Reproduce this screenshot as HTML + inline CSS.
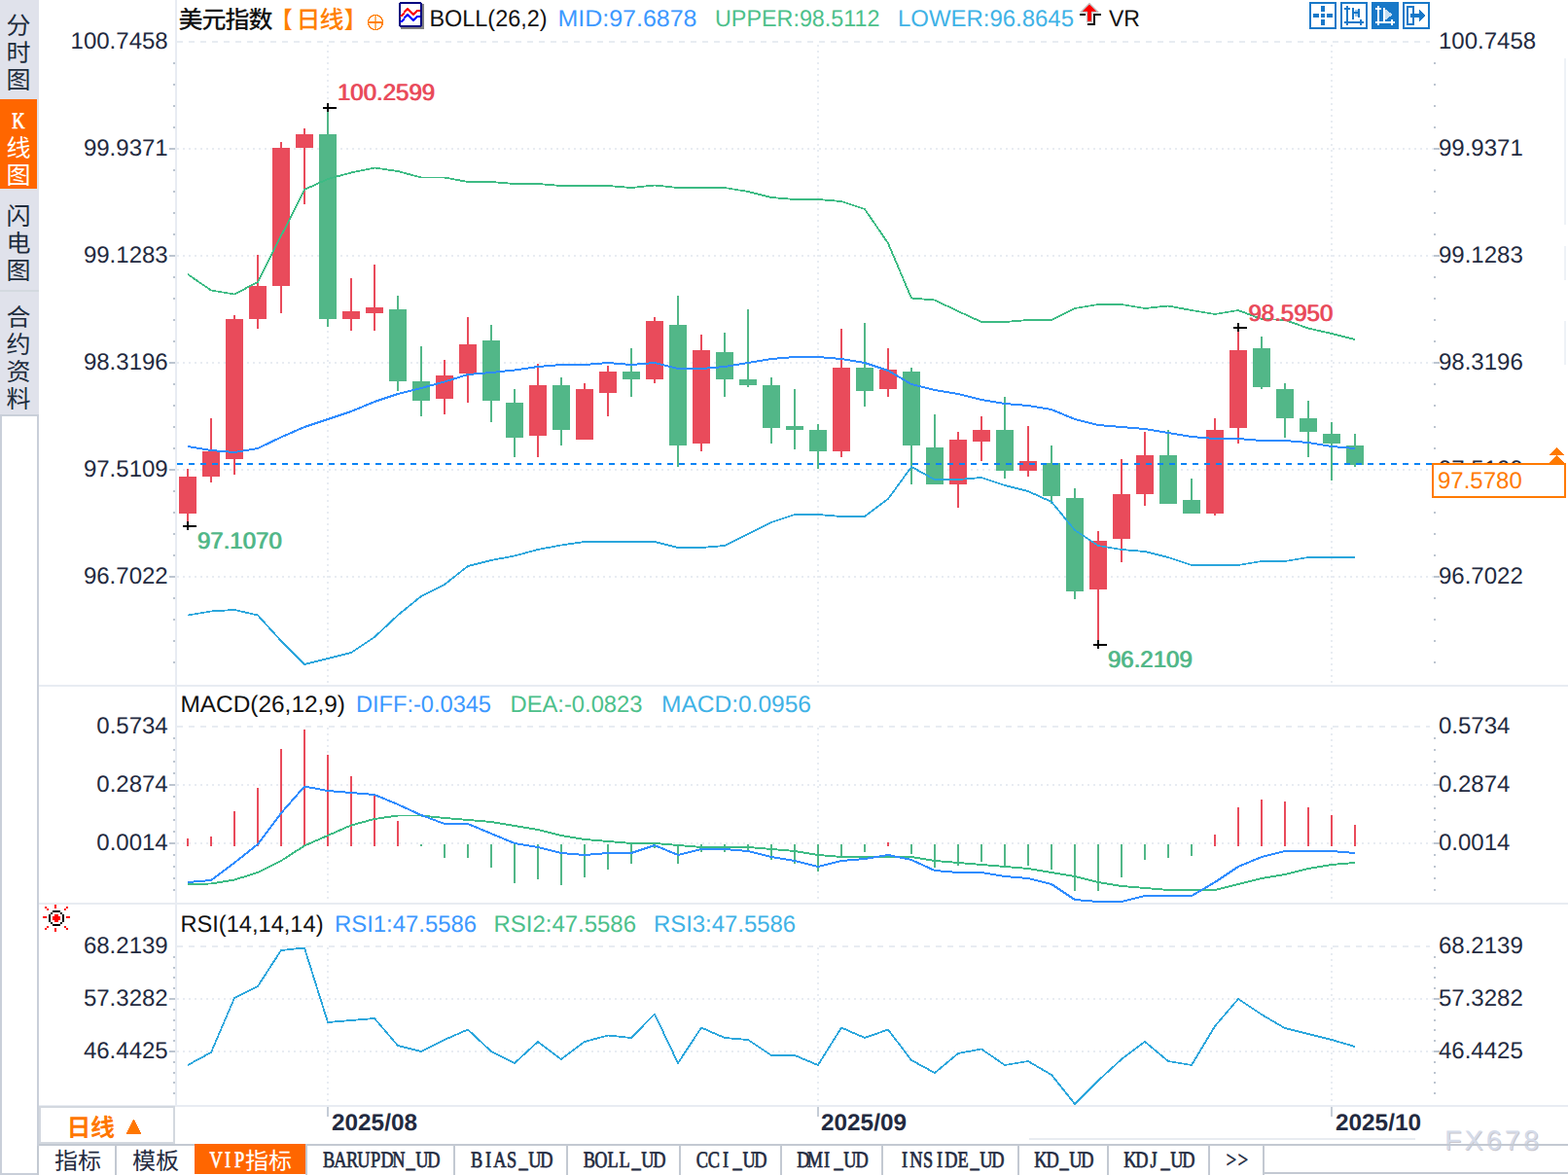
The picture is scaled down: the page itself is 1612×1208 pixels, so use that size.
<!DOCTYPE html>
<html><head><meta charset="utf-8"><title>chart</title>
<style>html,body{margin:0;padding:0;background:#fff;overflow:hidden}svg{display:block;font-family:"Liberation Sans",sans-serif}</style>
</head><body><svg width="1612" height="1208" viewBox="0 0 1612 1208" font-family="Liberation Sans, sans-serif" shape-rendering="crispEdges" text-rendering="geometricPrecision"><rect x="0" y="0" width="1612" height="1208" fill="#ffffff"/>
<rect x="0" y="0" width="40" height="426" fill="#e0e2eb"/>
<rect x="0" y="102" width="38" height="92" fill="#ff6600"/>
<rect x="0" y="298" width="40" height="2" fill="#d3d9df"/>
<rect x="0" y="426" width="40" height="782" fill="#c9cfd9"/>
<rect x="2" y="428" width="36" height="778" fill="#ffffff"/>
<text x="6.5" y="34.5" fill="#202c3c" font-size="25" style="font-family:'Liberation Sans','Noto Sans CJK SC',sans-serif">分</text>
<text x="6.5" y="62.5" fill="#202c3c" font-size="25" style="font-family:'Liberation Sans','Noto Sans CJK SC',sans-serif">时</text>
<text x="6.5" y="90.5" fill="#202c3c" font-size="25" style="font-family:'Liberation Sans','Noto Sans CJK SC',sans-serif">图</text>
<text transform="scale(0.78,1)" x="24.36" y="132" fill="#ffffff" font-size="23.5" text-anchor="middle" stroke="#ffffff" stroke-width="0.7" style="font-family:'Liberation Serif',serif">K</text>
<text x="6.5" y="160.5" fill="#ffffff" font-size="25" style="font-family:'Liberation Sans','Noto Sans CJK SC',sans-serif">线</text>
<text x="6.5" y="188.5" fill="#ffffff" font-size="25" style="font-family:'Liberation Sans','Noto Sans CJK SC',sans-serif">图</text>
<text x="6.5" y="230.5" fill="#202c3c" font-size="25" style="font-family:'Liberation Sans','Noto Sans CJK SC',sans-serif">闪</text>
<text x="6.5" y="258.5" fill="#202c3c" font-size="25" style="font-family:'Liberation Sans','Noto Sans CJK SC',sans-serif">电</text>
<text x="6.5" y="286.5" fill="#202c3c" font-size="25" style="font-family:'Liberation Sans','Noto Sans CJK SC',sans-serif">图</text>
<text x="6.5" y="335" fill="#202c3c" font-size="25" style="font-family:'Liberation Sans','Noto Sans CJK SC',sans-serif">合</text>
<text x="6.5" y="363" fill="#202c3c" font-size="25" style="font-family:'Liberation Sans','Noto Sans CJK SC',sans-serif">约</text>
<text x="6.5" y="391" fill="#202c3c" font-size="25" style="font-family:'Liberation Sans','Noto Sans CJK SC',sans-serif">资</text>
<text x="6.5" y="419" fill="#202c3c" font-size="25" style="font-family:'Liberation Sans','Noto Sans CJK SC',sans-serif">料</text>
<rect x="180" y="0" width="2" height="1137" fill="#e8ecf2"/>
<rect x="40" y="704" width="1572" height="2" fill="#e8ecf2"/>
<rect x="40" y="928" width="1572" height="2" fill="#e8ecf2"/>
<rect x="40" y="1136" width="1572" height="2" fill="#e8ecf2"/>
<rect x="1608" y="60" width="2" height="171" fill="#eef2f6"/>
<rect x="1608" y="253" width="2" height="35" fill="#eef2f6"/>
<rect x="1608" y="330" width="2" height="45" fill="#eef2f6"/>
<line x1="182" y1="43" x2="1470" y2="43" stroke="#e8ecf2" stroke-width="2" stroke-dasharray="6 6"/>
<line x1="182" y1="153" x2="1474" y2="153" stroke="#e8ecf2" stroke-width="2" stroke-dasharray="2 4"/>
<line x1="182" y1="263" x2="1474" y2="263" stroke="#e8ecf2" stroke-width="2" stroke-dasharray="2 4"/>
<line x1="182" y1="373" x2="1474" y2="373" stroke="#e8ecf2" stroke-width="2" stroke-dasharray="2 4"/>
<line x1="182" y1="483" x2="1474" y2="483" stroke="#e8ecf2" stroke-width="2" stroke-dasharray="2 4"/>
<line x1="182" y1="593" x2="1474" y2="593" stroke="#e8ecf2" stroke-width="2" stroke-dasharray="2 4"/>
<line x1="182" y1="747" x2="1470" y2="747" stroke="#e8ecf2" stroke-width="2" stroke-dasharray="6 6"/>
<line x1="182" y1="807" x2="1474" y2="807" stroke="#e8ecf2" stroke-width="2" stroke-dasharray="2 4"/>
<line x1="182" y1="867" x2="1474" y2="867" stroke="#e8ecf2" stroke-width="2" stroke-dasharray="2 4"/>
<line x1="182" y1="973" x2="1470" y2="973" stroke="#e8ecf2" stroke-width="2" stroke-dasharray="6 6"/>
<line x1="182" y1="1027" x2="1474" y2="1027" stroke="#e8ecf2" stroke-width="2" stroke-dasharray="2 4"/>
<line x1="182" y1="1081" x2="1474" y2="1081" stroke="#e8ecf2" stroke-width="2" stroke-dasharray="2 4"/>
<line x1="337" y1="46" x2="337" y2="704" stroke="#e8ecf2" stroke-width="2" stroke-dasharray="2 4"/>
<line x1="337" y1="748" x2="337" y2="928" stroke="#e8ecf2" stroke-width="2" stroke-dasharray="2 4"/>
<line x1="337" y1="974" x2="337" y2="1136" stroke="#e8ecf2" stroke-width="2" stroke-dasharray="2 4"/>
<rect x="336" y="1138" width="2" height="10" fill="#c5ccd6"/>
<line x1="841" y1="46" x2="841" y2="704" stroke="#e8ecf2" stroke-width="2" stroke-dasharray="2 4"/>
<line x1="841" y1="748" x2="841" y2="928" stroke="#e8ecf2" stroke-width="2" stroke-dasharray="2 4"/>
<line x1="841" y1="974" x2="841" y2="1136" stroke="#e8ecf2" stroke-width="2" stroke-dasharray="2 4"/>
<rect x="840" y="1138" width="2" height="10" fill="#c5ccd6"/>
<line x1="1369" y1="46" x2="1369" y2="704" stroke="#e8ecf2" stroke-width="2" stroke-dasharray="2 4"/>
<line x1="1369" y1="748" x2="1369" y2="928" stroke="#e8ecf2" stroke-width="2" stroke-dasharray="2 4"/>
<line x1="1369" y1="974" x2="1369" y2="1136" stroke="#e8ecf2" stroke-width="2" stroke-dasharray="2 4"/>
<rect x="1368" y="1138" width="2" height="10" fill="#c5ccd6"/>
<rect x="178" y="64" width="2" height="2" fill="#bcc5d0"/>
<rect x="1474" y="64" width="2" height="2" fill="#bcc5d0"/>
<rect x="178" y="86" width="2" height="2" fill="#bcc5d0"/>
<rect x="1474" y="86" width="2" height="2" fill="#bcc5d0"/>
<rect x="178" y="108" width="2" height="2" fill="#bcc5d0"/>
<rect x="1474" y="108" width="2" height="2" fill="#bcc5d0"/>
<rect x="178" y="130" width="2" height="2" fill="#bcc5d0"/>
<rect x="1474" y="130" width="2" height="2" fill="#bcc5d0"/>
<rect x="174" y="152" width="6" height="2" fill="#bcc5d0"/>
<rect x="1474" y="152" width="6" height="2" fill="#bcc5d0"/>
<rect x="178" y="174" width="2" height="2" fill="#bcc5d0"/>
<rect x="1474" y="174" width="2" height="2" fill="#bcc5d0"/>
<rect x="178" y="196" width="2" height="2" fill="#bcc5d0"/>
<rect x="1474" y="196" width="2" height="2" fill="#bcc5d0"/>
<rect x="178" y="218" width="2" height="2" fill="#bcc5d0"/>
<rect x="1474" y="218" width="2" height="2" fill="#bcc5d0"/>
<rect x="178" y="240" width="2" height="2" fill="#bcc5d0"/>
<rect x="1474" y="240" width="2" height="2" fill="#bcc5d0"/>
<rect x="174" y="262" width="6" height="2" fill="#bcc5d0"/>
<rect x="1474" y="262" width="6" height="2" fill="#bcc5d0"/>
<rect x="178" y="284" width="2" height="2" fill="#bcc5d0"/>
<rect x="1474" y="284" width="2" height="2" fill="#bcc5d0"/>
<rect x="178" y="306" width="2" height="2" fill="#bcc5d0"/>
<rect x="1474" y="306" width="2" height="2" fill="#bcc5d0"/>
<rect x="178" y="328" width="2" height="2" fill="#bcc5d0"/>
<rect x="1474" y="328" width="2" height="2" fill="#bcc5d0"/>
<rect x="178" y="350" width="2" height="2" fill="#bcc5d0"/>
<rect x="1474" y="350" width="2" height="2" fill="#bcc5d0"/>
<rect x="174" y="372" width="6" height="2" fill="#bcc5d0"/>
<rect x="1474" y="372" width="6" height="2" fill="#bcc5d0"/>
<rect x="178" y="394" width="2" height="2" fill="#bcc5d0"/>
<rect x="1474" y="394" width="2" height="2" fill="#bcc5d0"/>
<rect x="178" y="416" width="2" height="2" fill="#bcc5d0"/>
<rect x="1474" y="416" width="2" height="2" fill="#bcc5d0"/>
<rect x="178" y="438" width="2" height="2" fill="#bcc5d0"/>
<rect x="1474" y="438" width="2" height="2" fill="#bcc5d0"/>
<rect x="178" y="460" width="2" height="2" fill="#bcc5d0"/>
<rect x="1474" y="460" width="2" height="2" fill="#bcc5d0"/>
<rect x="174" y="482" width="6" height="2" fill="#bcc5d0"/>
<rect x="1474" y="482" width="6" height="2" fill="#bcc5d0"/>
<rect x="178" y="504" width="2" height="2" fill="#bcc5d0"/>
<rect x="1474" y="504" width="2" height="2" fill="#bcc5d0"/>
<rect x="178" y="526" width="2" height="2" fill="#bcc5d0"/>
<rect x="1474" y="526" width="2" height="2" fill="#bcc5d0"/>
<rect x="178" y="548" width="2" height="2" fill="#bcc5d0"/>
<rect x="1474" y="548" width="2" height="2" fill="#bcc5d0"/>
<rect x="178" y="570" width="2" height="2" fill="#bcc5d0"/>
<rect x="1474" y="570" width="2" height="2" fill="#bcc5d0"/>
<rect x="174" y="592" width="6" height="2" fill="#bcc5d0"/>
<rect x="1474" y="592" width="6" height="2" fill="#bcc5d0"/>
<rect x="178" y="614" width="2" height="2" fill="#bcc5d0"/>
<rect x="1474" y="614" width="2" height="2" fill="#bcc5d0"/>
<rect x="178" y="636" width="2" height="2" fill="#bcc5d0"/>
<rect x="1474" y="636" width="2" height="2" fill="#bcc5d0"/>
<rect x="178" y="658" width="2" height="2" fill="#bcc5d0"/>
<rect x="1474" y="658" width="2" height="2" fill="#bcc5d0"/>
<rect x="178" y="680" width="2" height="2" fill="#bcc5d0"/>
<rect x="1474" y="680" width="2" height="2" fill="#bcc5d0"/>
<rect x="178" y="758" width="2" height="2" fill="#bcc5d0"/>
<rect x="1474" y="758" width="2" height="2" fill="#bcc5d0"/>
<rect x="178" y="770" width="2" height="2" fill="#bcc5d0"/>
<rect x="1474" y="770" width="2" height="2" fill="#bcc5d0"/>
<rect x="178" y="782" width="2" height="2" fill="#bcc5d0"/>
<rect x="1474" y="782" width="2" height="2" fill="#bcc5d0"/>
<rect x="178" y="794" width="2" height="2" fill="#bcc5d0"/>
<rect x="1474" y="794" width="2" height="2" fill="#bcc5d0"/>
<rect x="174" y="806" width="6" height="2" fill="#bcc5d0"/>
<rect x="1474" y="806" width="6" height="2" fill="#bcc5d0"/>
<rect x="178" y="818" width="2" height="2" fill="#bcc5d0"/>
<rect x="1474" y="818" width="2" height="2" fill="#bcc5d0"/>
<rect x="178" y="830" width="2" height="2" fill="#bcc5d0"/>
<rect x="1474" y="830" width="2" height="2" fill="#bcc5d0"/>
<rect x="178" y="842" width="2" height="2" fill="#bcc5d0"/>
<rect x="1474" y="842" width="2" height="2" fill="#bcc5d0"/>
<rect x="178" y="854" width="2" height="2" fill="#bcc5d0"/>
<rect x="1474" y="854" width="2" height="2" fill="#bcc5d0"/>
<rect x="174" y="866" width="6" height="2" fill="#bcc5d0"/>
<rect x="1474" y="866" width="6" height="2" fill="#bcc5d0"/>
<rect x="178" y="878" width="2" height="2" fill="#bcc5d0"/>
<rect x="1474" y="878" width="2" height="2" fill="#bcc5d0"/>
<rect x="178" y="890" width="2" height="2" fill="#bcc5d0"/>
<rect x="1474" y="890" width="2" height="2" fill="#bcc5d0"/>
<rect x="178" y="902" width="2" height="2" fill="#bcc5d0"/>
<rect x="1474" y="902" width="2" height="2" fill="#bcc5d0"/>
<rect x="178" y="914" width="2" height="2" fill="#bcc5d0"/>
<rect x="1474" y="914" width="2" height="2" fill="#bcc5d0"/>
<rect x="178" y="983" width="2" height="2" fill="#bcc5d0"/>
<rect x="1474" y="983" width="2" height="2" fill="#bcc5d0"/>
<rect x="178" y="994" width="2" height="2" fill="#bcc5d0"/>
<rect x="1474" y="994" width="2" height="2" fill="#bcc5d0"/>
<rect x="178" y="1004" width="2" height="2" fill="#bcc5d0"/>
<rect x="1474" y="1004" width="2" height="2" fill="#bcc5d0"/>
<rect x="178" y="1015" width="2" height="2" fill="#bcc5d0"/>
<rect x="1474" y="1015" width="2" height="2" fill="#bcc5d0"/>
<rect x="174" y="1026" width="6" height="2" fill="#bcc5d0"/>
<rect x="1474" y="1026" width="6" height="2" fill="#bcc5d0"/>
<rect x="178" y="1037" width="2" height="2" fill="#bcc5d0"/>
<rect x="1474" y="1037" width="2" height="2" fill="#bcc5d0"/>
<rect x="178" y="1048" width="2" height="2" fill="#bcc5d0"/>
<rect x="1474" y="1048" width="2" height="2" fill="#bcc5d0"/>
<rect x="178" y="1058" width="2" height="2" fill="#bcc5d0"/>
<rect x="1474" y="1058" width="2" height="2" fill="#bcc5d0"/>
<rect x="178" y="1069" width="2" height="2" fill="#bcc5d0"/>
<rect x="1474" y="1069" width="2" height="2" fill="#bcc5d0"/>
<rect x="174" y="1080" width="6" height="2" fill="#bcc5d0"/>
<rect x="1474" y="1080" width="6" height="2" fill="#bcc5d0"/>
<rect x="178" y="1091" width="2" height="2" fill="#bcc5d0"/>
<rect x="1474" y="1091" width="2" height="2" fill="#bcc5d0"/>
<rect x="178" y="1102" width="2" height="2" fill="#bcc5d0"/>
<rect x="1474" y="1102" width="2" height="2" fill="#bcc5d0"/>
<rect x="178" y="1112" width="2" height="2" fill="#bcc5d0"/>
<rect x="1474" y="1112" width="2" height="2" fill="#bcc5d0"/>
<rect x="178" y="1123" width="2" height="2" fill="#bcc5d0"/>
<rect x="1474" y="1123" width="2" height="2" fill="#bcc5d0"/>
<text x="172.7" y="49.5" fill="#232a40" font-size="24" text-anchor="end">100.7458</text>
<text x="1479" y="49.5" fill="#232a40" font-size="24">100.7458</text>
<text x="172.7" y="159.5" fill="#232a40" font-size="24" text-anchor="end">99.9371</text>
<text x="1479" y="159.5" fill="#232a40" font-size="24">99.9371</text>
<text x="172.7" y="269.5" fill="#232a40" font-size="24" text-anchor="end">99.1283</text>
<text x="1479" y="269.5" fill="#232a40" font-size="24">99.1283</text>
<text x="172.7" y="379.5" fill="#232a40" font-size="24" text-anchor="end">98.3196</text>
<text x="1479" y="379.5" fill="#232a40" font-size="24">98.3196</text>
<text x="172.7" y="489.5" fill="#232a40" font-size="24" text-anchor="end">97.5109</text>
<text x="1479" y="489.5" fill="#232a40" font-size="24">97.5109</text>
<text x="172.7" y="599.5" fill="#232a40" font-size="24" text-anchor="end">96.7022</text>
<text x="1479" y="599.5" fill="#232a40" font-size="24">96.7022</text>
<text x="172.7" y="753.5" fill="#232a40" font-size="24" text-anchor="end">0.5734</text>
<text x="1479" y="753.5" fill="#232a40" font-size="24">0.5734</text>
<text x="172.7" y="813.5" fill="#232a40" font-size="24" text-anchor="end">0.2874</text>
<text x="1479" y="813.5" fill="#232a40" font-size="24">0.2874</text>
<text x="172.7" y="873.5" fill="#232a40" font-size="24" text-anchor="end">0.0014</text>
<text x="1479" y="873.5" fill="#232a40" font-size="24">0.0014</text>
<text x="172.7" y="979.5" fill="#232a40" font-size="24" text-anchor="end">68.2139</text>
<text x="1479" y="979.5" fill="#232a40" font-size="24">68.2139</text>
<text x="172.7" y="1033.5" fill="#232a40" font-size="24" text-anchor="end">57.3282</text>
<text x="1479" y="1033.5" fill="#232a40" font-size="24">57.3282</text>
<text x="172.7" y="1087.5" fill="#232a40" font-size="24" text-anchor="end">46.4425</text>
<text x="1479" y="1087.5" fill="#232a40" font-size="24">46.4425</text>
<rect x="192" y="482" width="2" height="59" fill="#e94b5b"/>
<rect x="184" y="490" width="18" height="38" fill="#e94b5b"/>
<rect x="216" y="430" width="2" height="66" fill="#e94b5b"/>
<rect x="208" y="464" width="18" height="26" fill="#e94b5b"/>
<rect x="240" y="324" width="2" height="164" fill="#e94b5b"/>
<rect x="232" y="328" width="18" height="144" fill="#e94b5b"/>
<rect x="264" y="262" width="2" height="76" fill="#e94b5b"/>
<rect x="256" y="294" width="18" height="34" fill="#e94b5b"/>
<rect x="288" y="146" width="2" height="176" fill="#e94b5b"/>
<rect x="280" y="152" width="18" height="142" fill="#e94b5b"/>
<rect x="312" y="132" width="2" height="78" fill="#e94b5b"/>
<rect x="304" y="138" width="18" height="14" fill="#e94b5b"/>
<rect x="336" y="111" width="2" height="225" fill="#52b788"/>
<rect x="328" y="138" width="18" height="190" fill="#52b788"/>
<rect x="360" y="286" width="2" height="54" fill="#e94b5b"/>
<rect x="352" y="320" width="18" height="8" fill="#e94b5b"/>
<rect x="384" y="272" width="2" height="68" fill="#e94b5b"/>
<rect x="376" y="316" width="18" height="6" fill="#e94b5b"/>
<rect x="408" y="304" width="2" height="98" fill="#52b788"/>
<rect x="400" y="318" width="18" height="74" fill="#52b788"/>
<rect x="432" y="356" width="2" height="72" fill="#52b788"/>
<rect x="424" y="392" width="18" height="20" fill="#52b788"/>
<rect x="456" y="370" width="2" height="56" fill="#e94b5b"/>
<rect x="448" y="386" width="18" height="24" fill="#e94b5b"/>
<rect x="480" y="326" width="2" height="88" fill="#e94b5b"/>
<rect x="472" y="354" width="18" height="30" fill="#e94b5b"/>
<rect x="504" y="334" width="2" height="100" fill="#52b788"/>
<rect x="496" y="350" width="18" height="62" fill="#52b788"/>
<rect x="528" y="400" width="2" height="70" fill="#52b788"/>
<rect x="520" y="414" width="18" height="36" fill="#52b788"/>
<rect x="552" y="374" width="2" height="96" fill="#e94b5b"/>
<rect x="544" y="396" width="18" height="52" fill="#e94b5b"/>
<rect x="576" y="388" width="2" height="70" fill="#52b788"/>
<rect x="568" y="396" width="18" height="46" fill="#52b788"/>
<rect x="600" y="394" width="2" height="58" fill="#e94b5b"/>
<rect x="592" y="400" width="18" height="52" fill="#e94b5b"/>
<rect x="624" y="376" width="2" height="52" fill="#e94b5b"/>
<rect x="616" y="382" width="18" height="22" fill="#e94b5b"/>
<rect x="648" y="358" width="2" height="50" fill="#52b788"/>
<rect x="640" y="382" width="18" height="8" fill="#52b788"/>
<rect x="672" y="326" width="2" height="68" fill="#e94b5b"/>
<rect x="664" y="330" width="18" height="60" fill="#e94b5b"/>
<rect x="696" y="304" width="2" height="176" fill="#52b788"/>
<rect x="688" y="334" width="18" height="124" fill="#52b788"/>
<rect x="720" y="344" width="2" height="120" fill="#e94b5b"/>
<rect x="712" y="360" width="18" height="96" fill="#e94b5b"/>
<rect x="744" y="342" width="2" height="66" fill="#52b788"/>
<rect x="736" y="362" width="18" height="28" fill="#52b788"/>
<rect x="768" y="318" width="2" height="80" fill="#52b788"/>
<rect x="760" y="390" width="18" height="6" fill="#52b788"/>
<rect x="792" y="388" width="2" height="68" fill="#52b788"/>
<rect x="784" y="396" width="18" height="44" fill="#52b788"/>
<rect x="816" y="400" width="2" height="62" fill="#52b788"/>
<rect x="808" y="438" width="18" height="4" fill="#52b788"/>
<rect x="840" y="436" width="2" height="46" fill="#52b788"/>
<rect x="832" y="442" width="18" height="22" fill="#52b788"/>
<rect x="864" y="338" width="2" height="132" fill="#e94b5b"/>
<rect x="856" y="378" width="18" height="86" fill="#e94b5b"/>
<rect x="888" y="332" width="2" height="86" fill="#52b788"/>
<rect x="880" y="378" width="18" height="24" fill="#52b788"/>
<rect x="912" y="358" width="2" height="50" fill="#e94b5b"/>
<rect x="904" y="380" width="18" height="20" fill="#e94b5b"/>
<rect x="936" y="378" width="2" height="120" fill="#52b788"/>
<rect x="928" y="382" width="18" height="76" fill="#52b788"/>
<rect x="960" y="426" width="2" height="72" fill="#52b788"/>
<rect x="952" y="460" width="18" height="38" fill="#52b788"/>
<rect x="984" y="444" width="2" height="78" fill="#e94b5b"/>
<rect x="976" y="452" width="18" height="46" fill="#e94b5b"/>
<rect x="1008" y="428" width="2" height="46" fill="#e94b5b"/>
<rect x="1000" y="442" width="18" height="12" fill="#e94b5b"/>
<rect x="1032" y="408" width="2" height="84" fill="#52b788"/>
<rect x="1024" y="442" width="18" height="42" fill="#52b788"/>
<rect x="1056" y="438" width="2" height="52" fill="#e94b5b"/>
<rect x="1048" y="474" width="18" height="10" fill="#e94b5b"/>
<rect x="1080" y="458" width="2" height="60" fill="#52b788"/>
<rect x="1072" y="476" width="18" height="34" fill="#52b788"/>
<rect x="1104" y="502" width="2" height="114" fill="#52b788"/>
<rect x="1096" y="512" width="18" height="96" fill="#52b788"/>
<rect x="1128" y="546" width="2" height="117" fill="#e94b5b"/>
<rect x="1120" y="556" width="18" height="50" fill="#e94b5b"/>
<rect x="1152" y="472" width="2" height="106" fill="#e94b5b"/>
<rect x="1144" y="508" width="18" height="46" fill="#e94b5b"/>
<rect x="1176" y="444" width="2" height="76" fill="#e94b5b"/>
<rect x="1168" y="468" width="18" height="40" fill="#e94b5b"/>
<rect x="1200" y="442" width="2" height="76" fill="#52b788"/>
<rect x="1192" y="468" width="18" height="50" fill="#52b788"/>
<rect x="1224" y="492" width="2" height="36" fill="#52b788"/>
<rect x="1216" y="514" width="18" height="14" fill="#52b788"/>
<rect x="1248" y="430" width="2" height="100" fill="#e94b5b"/>
<rect x="1240" y="442" width="18" height="86" fill="#e94b5b"/>
<rect x="1272" y="337" width="2" height="119" fill="#e94b5b"/>
<rect x="1264" y="360" width="18" height="80" fill="#e94b5b"/>
<rect x="1296" y="346" width="2" height="54" fill="#52b788"/>
<rect x="1288" y="358" width="18" height="40" fill="#52b788"/>
<rect x="1320" y="394" width="2" height="56" fill="#52b788"/>
<rect x="1312" y="400" width="18" height="30" fill="#52b788"/>
<rect x="1344" y="412" width="2" height="58" fill="#52b788"/>
<rect x="1336" y="430" width="18" height="14" fill="#52b788"/>
<rect x="1368" y="434" width="2" height="60" fill="#52b788"/>
<rect x="1360" y="446" width="18" height="10" fill="#52b788"/>
<rect x="1392" y="446" width="2" height="34" fill="#52b788"/>
<rect x="1384" y="458" width="18" height="20" fill="#52b788"/>
<polyline points="193,282 217,298.5 241,302.5 265,290 289,242.5 313,195 337,184 361,177.5 385,172.5 409,176 433,182.5 457,182.5 481,187 505,187 529,189 553,189 577,191 601,191 625,191 649,193 673,190.5 697,193 721,193 745,193 769,197 793,203 817,205 841,205 865,207 889,215 913,250 937,306.5 961,308.5 985,320 1009,331 1033,331 1057,329 1081,329 1105,317 1129,313 1153,313 1177,317 1201,314.5 1225,319 1249,323 1273,319 1297,328 1321,329 1345,337.5 1369,343 1393,349" fill="none" stroke="#3dbb84" stroke-width="1.8" stroke-linejoin="round"/>
<polyline points="193,459 217,463 241,465 265,461 289,449.5 313,439 337,431 361,423 385,413 409,405 433,399 457,392.5 481,385 505,383 529,380.5 553,377 577,375 601,375 625,373 649,375 673,373 697,379 721,379 745,377 769,373 793,369 817,367 841,367 865,369 889,373 913,381 937,395 961,401 985,405 1009,411 1033,415 1057,417 1081,421 1105,431 1129,437 1153,439 1177,441 1201,445 1225,449 1249,451 1273,451 1297,453 1321,453 1345,455 1369,459 1393,461" fill="none" stroke="#2f8cff" stroke-width="2" stroke-linejoin="round"/>
<polyline points="193,632.5 217,628.5 241,627 265,632.5 289,659 313,683 337,677 361,671 385,655 409,632.5 433,613 457,601 481,582 505,576 529,571.5 553,565 577,560.5 601,557 625,557 649,557 673,557 697,563 721,563 745,561 769,549 793,537 817,529 841,529 865,531 889,531 913,513 937,480 961,493 985,493 1009,491 1033,499 1057,505 1081,516 1105,545 1129,561 1153,565 1177,567 1201,573 1225,581 1249,581 1273,581 1297,577 1321,577 1345,573 1369,573 1393,573" fill="none" stroke="#2ba6dc" stroke-width="1.8" stroke-linejoin="round"/>
<line x1="182" y1="477" x2="1472" y2="477" stroke="#0a84f5" stroke-width="2" stroke-dasharray="6 6"/>
<rect x="332" y="110" width="14" height="2" fill="#000"/>
<rect x="336" y="106" width="2" height="9" fill="#000"/>
<rect x="188" y="540" width="14" height="2" fill="#000"/>
<rect x="192" y="536" width="2" height="9" fill="#000"/>
<rect x="1124" y="662" width="14" height="2" fill="#000"/>
<rect x="1128" y="658" width="2" height="9" fill="#000"/>
<rect x="1268" y="336" width="14" height="2" fill="#000"/>
<rect x="1272" y="332" width="2" height="9" fill="#000"/>
<text x="346.5" y="103" fill="#e94b5b" font-size="24">100.2599</text>
<text x="347.5" y="103" fill="#e94b5b" font-size="24">100.2599</text>
<text x="202.5" y="563.5" fill="#52b788" font-size="24">97.1070</text>
<text x="203.5" y="563.5" fill="#52b788" font-size="24">97.1070</text>
<text x="1138.5" y="685.5" fill="#52b788" font-size="24">96.2109</text>
<text x="1139.5" y="685.5" fill="#52b788" font-size="24">96.2109</text>
<text x="1283" y="329.5" fill="#e94b5b" font-size="24">98.5950</text>
<text x="1284" y="329.5" fill="#e94b5b" font-size="24">98.5950</text>
<rect x="1472" y="476" width="138" height="36" fill="#ff7a00"/>
<rect x="1474" y="478" width="134" height="32" fill="#ffffff"/>
<text x="1478" y="501.5" fill="#ff7a00" font-size="24">97.5780</text>
<path d="M1600 460 L1608 468 L1592 468 Z M1600 468 L1608 476 L1592 476 Z" fill="#ff7a00"/>
<rect x="192" y="862" width="2" height="8" fill="#e94b5b"/>
<rect x="216" y="860" width="2" height="10" fill="#e94b5b"/>
<rect x="240" y="834" width="2" height="36" fill="#e94b5b"/>
<rect x="264" y="810" width="2" height="60" fill="#e94b5b"/>
<rect x="288" y="770" width="2" height="100" fill="#e94b5b"/>
<rect x="312" y="750" width="2" height="120" fill="#e94b5b"/>
<rect x="336" y="776" width="2" height="94" fill="#e94b5b"/>
<rect x="360" y="798" width="2" height="72" fill="#e94b5b"/>
<rect x="384" y="816" width="2" height="54" fill="#e94b5b"/>
<rect x="408" y="844" width="2" height="26" fill="#e94b5b"/>
<rect x="432" y="868" width="2" height="2" fill="#52b788"/>
<rect x="456" y="868" width="2" height="14" fill="#52b788"/>
<rect x="480" y="868" width="2" height="14" fill="#52b788"/>
<rect x="504" y="868" width="2" height="24" fill="#52b788"/>
<rect x="528" y="868" width="2" height="40" fill="#52b788"/>
<rect x="552" y="868" width="2" height="36" fill="#52b788"/>
<rect x="576" y="868" width="2" height="42" fill="#52b788"/>
<rect x="600" y="868" width="2" height="34" fill="#52b788"/>
<rect x="624" y="868" width="2" height="26" fill="#52b788"/>
<rect x="648" y="868" width="2" height="20" fill="#52b788"/>
<rect x="672" y="868" width="2" height="4" fill="#52b788"/>
<rect x="696" y="868" width="2" height="20" fill="#52b788"/>
<rect x="720" y="868" width="2" height="8" fill="#52b788"/>
<rect x="744" y="868" width="2" height="8" fill="#52b788"/>
<rect x="768" y="868" width="2" height="8" fill="#52b788"/>
<rect x="792" y="868" width="2" height="16" fill="#52b788"/>
<rect x="816" y="868" width="2" height="20" fill="#52b788"/>
<rect x="840" y="868" width="2" height="28" fill="#52b788"/>
<rect x="864" y="868" width="2" height="14" fill="#52b788"/>
<rect x="888" y="868" width="2" height="8" fill="#52b788"/>
<rect x="912" y="866" width="2" height="4" fill="#e94b5b"/>
<rect x="936" y="868" width="2" height="10" fill="#52b788"/>
<rect x="960" y="868" width="2" height="24" fill="#52b788"/>
<rect x="984" y="868" width="2" height="22" fill="#52b788"/>
<rect x="1008" y="868" width="2" height="18" fill="#52b788"/>
<rect x="1032" y="868" width="2" height="22" fill="#52b788"/>
<rect x="1056" y="868" width="2" height="22" fill="#52b788"/>
<rect x="1080" y="868" width="2" height="26" fill="#52b788"/>
<rect x="1104" y="868" width="2" height="48" fill="#52b788"/>
<rect x="1128" y="868" width="2" height="48" fill="#52b788"/>
<rect x="1152" y="868" width="2" height="34" fill="#52b788"/>
<rect x="1176" y="868" width="2" height="16" fill="#52b788"/>
<rect x="1200" y="868" width="2" height="14" fill="#52b788"/>
<rect x="1224" y="868" width="2" height="12" fill="#52b788"/>
<rect x="1248" y="858" width="2" height="12" fill="#e94b5b"/>
<rect x="1272" y="830" width="2" height="40" fill="#e94b5b"/>
<rect x="1296" y="822" width="2" height="48" fill="#e94b5b"/>
<rect x="1320" y="824" width="2" height="46" fill="#e94b5b"/>
<rect x="1344" y="830" width="2" height="40" fill="#e94b5b"/>
<rect x="1368" y="838" width="2" height="32" fill="#e94b5b"/>
<rect x="1392" y="848" width="2" height="22" fill="#e94b5b"/>
<polyline points="193,909 217,908.5 241,904.5 265,897 289,885 313,869.5 337,859 361,848.5 385,842 409,838.5 433,838.5 457,841 481,843 505,845 529,849 553,853 577,859 601,863 625,865 649,867 673,867 697,869 721,871 745,871 769,871 793,873 817,875 841,879 865,881 889,881 913,881 937,881 961,885 985,887 1009,889 1033,891 1057,893 1081,897 1105,901 1129,907 1153,911 1177,913 1201,915 1225,915 1249,915 1273,909 1297,903 1321,899 1345,893 1369,889 1393,887" fill="none" stroke="#3dbb84" stroke-width="1.9" stroke-linejoin="round"/>
<polyline points="193,907 217,905 241,887 265,868 289,836 313,808.5 337,813 361,815 385,817 409,827 433,838 457,847 481,847 505,857 529,867 553,871 577,877 601,879 625,877 649,877 673,869 697,879 721,873 745,873 769,875 793,881 817,885 841,891 865,885 889,883 913,879 937,884 961,895 985,897 1009,897 1033,901 1057,903 1081,909 1105,925 1129,927 1153,927 1177,921 1201,921 1225,921 1249,907 1273,891 1297,881 1321,875 1345,875 1369,875 1393,877" fill="none" stroke="#2f8cff" stroke-width="2" stroke-linejoin="round"/>
<polyline points="193,1095 217,1082 241,1026 265,1014 289,977 313,974.5 337,1051 361,1049 385,1047 409,1075 433,1081 457,1069 481,1058.5 505,1081 529,1093 553,1071 577,1089 601,1071 625,1064.5 649,1067 673,1042.5 697,1093 721,1056.5 745,1067 769,1069 793,1085 817,1085 841,1095 865,1056.5 889,1067 913,1058.5 937,1090 961,1103 985,1083 1009,1078.5 1033,1095 1057,1091 1081,1105 1105,1135 1129,1111 1153,1089 1177,1071 1201,1091 1225,1095 1249,1055 1273,1027 1297,1043 1321,1057 1345,1063 1369,1069 1393,1076" fill="none" stroke="#2ba6dc" stroke-width="1.8" stroke-linejoin="round"/>
<text x="183.5 207.5 231.5 255.5" y="29" fill="#111111" font-size="25" font-weight="500" style="font-family:'Liberation Sans','Noto Sans CJK SC',sans-serif">美元指数</text>
<text x="277" y="28.62" fill="#ff8000" font-size="24" font-weight="500" style="font-family:'Liberation Sans','Noto Sans CJK SC',sans-serif">【</text>
<text x="304.5 328.5" y="29" fill="#ff8000" font-size="25" font-weight="500" style="font-family:'Liberation Sans','Noto Sans CJK SC',sans-serif">日线</text>
<text x="353.5" y="28.62" fill="#ff8000" font-size="24" font-weight="500" style="font-family:'Liberation Sans','Noto Sans CJK SC',sans-serif">】</text>
<g stroke="#ff8000" fill="none"><circle cx="386" cy="23" r="7.5" stroke-width="1.4"/><line x1="378" y1="23" x2="394" y2="23" stroke-width="2"/><line x1="386" y1="15" x2="386" y2="31" stroke-width="1.2" stroke-opacity="0.6"/></g>
<rect x="412" y="4" width="24" height="26" fill="#808080"/>
<rect x="411" y="3" width="22" height="24" rx="2" fill="#fff" stroke="#000080" stroke-width="2"/>
<polyline points="412,17 419,9 425,15 429,11 432,11" fill="none" stroke="#ff0000" stroke-width="2"/>
<polyline points="412,23 419,15 425,21 429,17 432,17" fill="none" stroke="#0000ff" stroke-width="2"/>
<text x="441.5" y="27" fill="#111" font-size="24" textLength="121" lengthAdjust="spacingAndGlyphs">BOLL(26,2)</text>
<text x="573.5" y="27" fill="#3c98ff" font-size="24" textLength="143" lengthAdjust="spacingAndGlyphs">MID:97.6878</text>
<text x="735" y="27" fill="#4cc08a" font-size="24" textLength="169.5" lengthAdjust="spacingAndGlyphs">UPPER:98.5112</text>
<text x="923" y="27" fill="#3fb2e6" font-size="24" textLength="181" lengthAdjust="spacingAndGlyphs">LOWER:96.8645</text>
<path d="M1110 14h6v2h-6z M1124 14h8v2h-8z M1124 16h2v10h-2z M1118 24h8v2h-8z" fill="#000"/>
<path d="M1120 3.5 L1129 12.5 L1122.5 12.5 L1122.5 22.5 L1117.5 22.5 L1117.5 12.5 L1111 12.5 Z" fill="#ff0000" stroke="#c4c4c4" stroke-width="1.3" stroke-linejoin="round" shape-rendering="geometricPrecision"/>
<text x="1140" y="27" fill="#111" font-size="24" textLength="32" lengthAdjust="spacingAndGlyphs">VR</text>
<rect x="1347" y="3" width="26" height="26" fill="#fff" stroke="#1878c8" stroke-width="2"/>
<rect x="1379" y="3" width="26" height="26" fill="#fff" stroke="#1878c8" stroke-width="2"/>
<rect x="1410" y="2" width="28" height="28" fill="#1878c8"/>
<rect x="1443" y="3" width="26" height="26" fill="#fff" stroke="#1878c8" stroke-width="2"/>
<rect x="1358" y="6" width="4" height="6" fill="#1878c8"/>
<rect x="1358" y="14" width="4" height="4" fill="#1878c8"/>
<rect x="1358" y="20" width="4" height="6" fill="#1878c8"/>
<rect x="1350" y="14" width="6" height="4" fill="#1878c8"/>
<rect x="1364" y="14" width="6" height="4" fill="#1878c8"/>
<rect x="1384" y="6" width="2" height="20" fill="#1878c8"/>
<rect x="1382" y="8" width="6" height="2" fill="#1878c8"/>
<rect x="1382" y="22" width="20" height="2" fill="#1878c8"/>
<rect x="1398" y="20" width="2" height="6" fill="#1878c8"/>
<rect x="1390" y="8" width="2" height="12" fill="#1878c8"/>
<rect x="1392" y="12" width="5" height="2" fill="#1878c8"/>
<rect x="1396" y="9" width="2" height="9" fill="#1878c8"/>
<rect x="1393" y="10" width="3" height="7" fill="#1878c8" opacity="0.45"/>
<rect x="1416" y="6" width="2" height="20" fill="#fff"/>
<rect x="1414" y="8" width="6" height="2" fill="#fff"/>
<rect x="1414" y="22" width="20" height="2" fill="#fff"/>
<rect x="1430" y="20" width="2" height="6" fill="#fff"/>
<path d="M1422 8 L1432 15 L1422 22 Z" fill="#fff" opacity="0.75"/>
<rect x="1422" y="8" width="2" height="14" fill="#fff"/>
<rect x="1447" y="7" width="6" height="18" fill="none" stroke="#1878c8" stroke-width="2"/>
<path d="M1450 14 h9 v-4 l7 6 l-7 6 v-4 h-9 z" fill="#1878c8"/>
<text x="185.5" y="731.5" fill="#111" font-size="24" textLength="169.5" lengthAdjust="spacingAndGlyphs">MACD(26,12,9)</text>
<text x="366" y="731.5" fill="#3c98ff" font-size="24" textLength="139" lengthAdjust="spacingAndGlyphs">DIFF:-0.0345</text>
<text x="524.5" y="731.5" fill="#4cc08a" font-size="24" textLength="136" lengthAdjust="spacingAndGlyphs">DEA:-0.0823</text>
<text x="680" y="731.5" fill="#3fb2e6" font-size="24" textLength="154" lengthAdjust="spacingAndGlyphs">MACD:0.0956</text>
<text x="185.5" y="957.5" fill="#111" font-size="24" textLength="147" lengthAdjust="spacingAndGlyphs">RSI(14,14,14)</text>
<text x="344" y="957.5" fill="#3c98ff" font-size="24" textLength="146" lengthAdjust="spacingAndGlyphs">RSI1:47.5586</text>
<text x="507.5" y="957.5" fill="#4cc08a" font-size="24" textLength="146.5" lengthAdjust="spacingAndGlyphs">RSI2:47.5586</text>
<text x="672" y="957.5" fill="#3fb2e6" font-size="24" textLength="146" lengthAdjust="spacingAndGlyphs">RSI3:47.5586</text>
<rect x="56" y="930" width="2" height="4" fill="#ff0000"/>
<rect x="56" y="954" width="2" height="4" fill="#ff0000"/>
<rect x="44" y="942" width="4" height="2" fill="#ff0000"/>
<rect x="68" y="942" width="4" height="2" fill="#ff0000"/>
<rect x="46" y="932" width="2" height="2" fill="#ff0000"/>
<rect x="48" y="934" width="2" height="2" fill="#ff0000"/>
<rect x="68" y="932" width="2" height="2" fill="#ff0000"/>
<rect x="66" y="934" width="2" height="2" fill="#ff0000"/>
<rect x="48" y="952" width="2" height="2" fill="#ff0000"/>
<rect x="46" y="954" width="2" height="2" fill="#ff0000"/>
<rect x="66" y="952" width="2" height="2" fill="#ff0000"/>
<rect x="68" y="954" width="2" height="2" fill="#ff0000"/>
<rect x="56" y="940" width="4" height="8" fill="#ff0000"/>
<rect x="54" y="942" width="8" height="4" fill="#ff0000"/>
<rect x="54" y="936" width="8" height="2" fill="#000000"/>
<rect x="52" y="938" width="2" height="2" fill="#000000"/>
<rect x="62" y="938" width="2" height="2" fill="#000000"/>
<rect x="50" y="940" width="2" height="8" fill="#000000"/>
<rect x="64" y="940" width="2" height="8" fill="#000000"/>
<rect x="52" y="948" width="2" height="2" fill="#000000"/>
<rect x="62" y="948" width="2" height="2" fill="#000000"/>
<rect x="54" y="950" width="8" height="2" fill="#000000"/>
<text x="341" y="1161.5" fill="#232a40" font-size="24" font-weight="bold" textLength="88" lengthAdjust="spacingAndGlyphs">2025/08</text>
<text x="844" y="1161.5" fill="#232a40" font-size="24" font-weight="bold" textLength="88" lengthAdjust="spacingAndGlyphs">2025/09</text>
<text x="1373" y="1161.5" fill="#232a40" font-size="24" font-weight="bold" textLength="88" lengthAdjust="spacingAndGlyphs">2025/10</text>
<rect x="40" y="1137" width="140" height="39" fill="#d3d8df"/>
<rect x="42" y="1139" width="136" height="35" fill="#ffffff"/>
<text x="68.5 93" y="1167.5" fill="#ff7700" font-size="25" font-weight="bold" style="font-family:'Liberation Sans','Noto Sans CJK SC',sans-serif">日线</text>
<path d="M137.5 1150.5 L145.5 1166 L129.5 1166 Z" fill="#ff7700"/>
<rect x="1058" y="1170" width="397" height="2" fill="#e8ecf1"/>
<text x="1486" y="1183" fill="#c9c6cc" font-size="28.5" letter-spacing="3.2">FX678</text>
<text x="1485" y="1182" fill="#d5dcea" font-size="28.5" letter-spacing="3.2">FX678</text>
<rect x="40" y="1176" width="1572" height="2" fill="#c3c9d2"/>
<rect x="1299" y="1205" width="313" height="2" fill="#c3c9d2"/>
<rect x="200" y="1176" width="114" height="31" fill="#ff6600"/>
<rect x="38" y="1178" width="2" height="30" fill="#c3c9d2"/>
<rect x="118" y="1178" width="2" height="30" fill="#c3c9d2"/>
<rect x="314" y="1178" width="2" height="30" fill="#c3c9d2"/>
<rect x="466" y="1178" width="2" height="30" fill="#c3c9d2"/>
<rect x="582" y="1178" width="2" height="30" fill="#c3c9d2"/>
<rect x="698" y="1178" width="2" height="30" fill="#c3c9d2"/>
<rect x="802" y="1178" width="2" height="30" fill="#c3c9d2"/>
<rect x="906" y="1178" width="2" height="30" fill="#c3c9d2"/>
<rect x="1046" y="1178" width="2" height="30" fill="#c3c9d2"/>
<rect x="1138" y="1178" width="2" height="30" fill="#c3c9d2"/>
<rect x="1242" y="1178" width="2" height="30" fill="#c3c9d2"/>
<rect x="1298" y="1178" width="2" height="30" fill="#c3c9d2"/>
<text x="56 80" y="1202.12" fill="#232a40" font-size="24" style="font-family:'Liberation Sans','Noto Sans CJK SC',sans-serif">指标</text>
<text x="136 160" y="1202.12" fill="#232a40" font-size="24" style="font-family:'Liberation Sans','Noto Sans CJK SC',sans-serif">模板</text>
<text transform="scale(0.78,1)" x="284.62 300.00 315.38" y="1200" fill="#fff" font-size="23.5" text-anchor="middle" stroke="#fff" stroke-width="0.7" style="font-family:'Liberation Serif',serif">VIP</text>
<text x="252 276" y="1202.12" fill="#fff" font-size="24" style="font-family:'Liberation Sans','Noto Sans CJK SC',sans-serif">指标</text>
<text transform="scale(0.78,1)" x="433.33 448.72 464.10 479.49 494.87 510.26 525.64 541.03 556.41 571.79" y="1200" fill="#232a40" font-size="23.5" text-anchor="middle" stroke="#232a40" stroke-width="0.7" style="font-family:'Liberation Serif',serif">BARUPDN_UD</text>
<text transform="scale(0.78,1)" x="628.21 643.59 658.97 674.36 689.74 705.13 720.51" y="1200" fill="#232a40" font-size="23.5" text-anchor="middle" stroke="#232a40" stroke-width="0.7" style="font-family:'Liberation Serif',serif">BIAS_UD</text>
<text transform="scale(0.78,1)" x="776.92 792.31 807.69 823.08 838.46 853.85 869.23" y="1200" fill="#232a40" font-size="23.5" text-anchor="middle" stroke="#232a40" stroke-width="0.7" style="font-family:'Liberation Serif',serif">BOLL_UD</text>
<text transform="scale(0.78,1)" x="925.64 941.03 956.41 971.79 987.18 1002.56" y="1200" fill="#232a40" font-size="23.5" text-anchor="middle" stroke="#232a40" stroke-width="0.7" style="font-family:'Liberation Serif',serif">CCI_UD</text>
<text transform="scale(0.78,1)" x="1058.97 1074.36 1089.74 1105.13 1120.51 1135.90" y="1200" fill="#232a40" font-size="23.5" text-anchor="middle" stroke="#232a40" stroke-width="0.7" style="font-family:'Liberation Serif',serif">DMI_UD</text>
<text transform="scale(0.78,1)" x="1192.31 1207.69 1223.08 1238.46 1253.85 1269.23 1284.62 1300.00 1315.38" y="1200" fill="#232a40" font-size="23.5" text-anchor="middle" stroke="#232a40" stroke-width="0.7" style="font-family:'Liberation Serif',serif">INSIDE_UD</text>
<text transform="scale(0.78,1)" x="1371.79 1387.18 1402.56 1417.95 1433.33" y="1200" fill="#232a40" font-size="23.5" text-anchor="middle" stroke="#232a40" stroke-width="0.7" style="font-family:'Liberation Serif',serif">KD_UD</text>
<text transform="scale(0.78,1)" x="1489.74 1505.13 1520.51 1535.90 1551.28 1566.67" y="1200" fill="#232a40" font-size="23.5" text-anchor="middle" stroke="#232a40" stroke-width="0.7" style="font-family:'Liberation Serif',serif">KDJ_UD</text>
<text transform="scale(0.78,1)" x="1623.08 1638.46" y="1200" fill="#232a40" font-size="23.5" text-anchor="middle" stroke="#232a40" stroke-width="0.7" style="font-family:'Liberation Serif',serif">&gt;&gt;</text></svg></body></html>
